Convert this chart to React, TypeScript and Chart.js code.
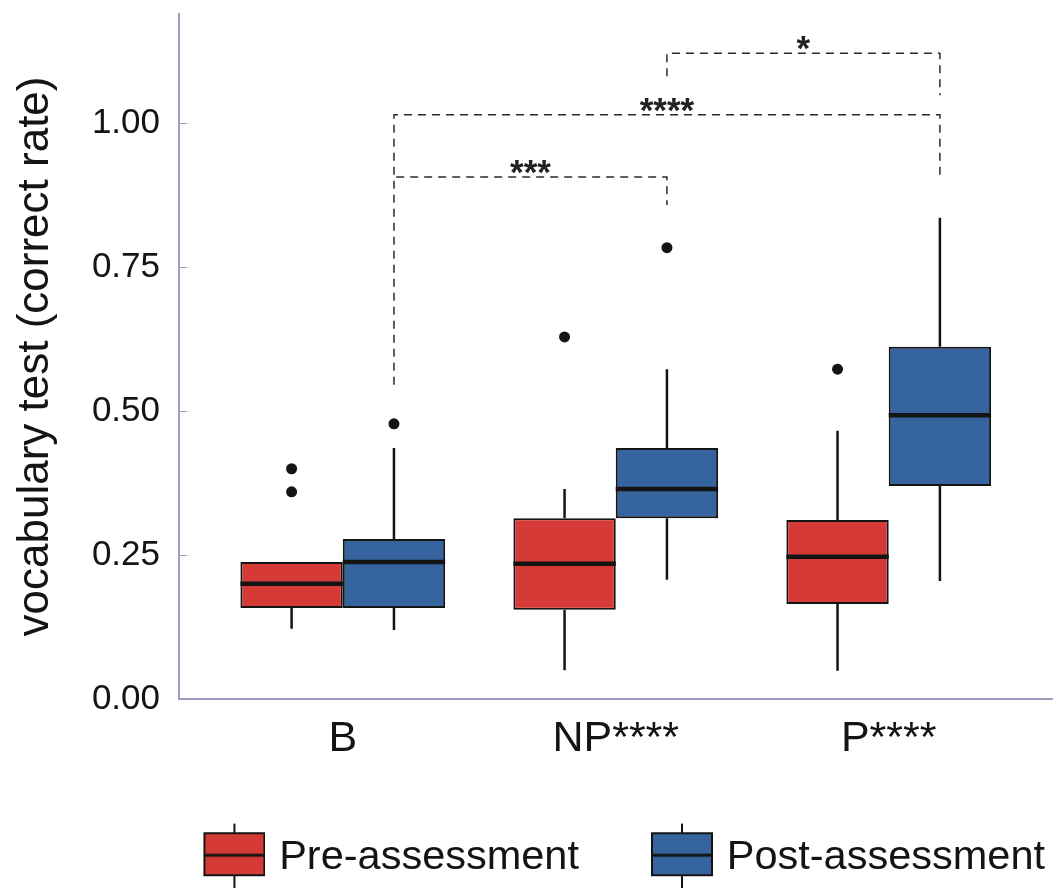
import React, { useEffect, useRef } from 'react';
import { Chart, registerables } from 'chart.js';

Chart.register(...registerables);

// ---------------- data ----------------
const categories = ['B', 'NP****', 'P****'];
const seriesNames = ['Pre-assessment', 'Post-assessment'];

const preQ1 = [0.158, 0.155, 0.165];
const preMedian = [0.2, 0.235, 0.247];
const preQ3 = [0.238, 0.314, 0.311];
const preWhiskerLow = [0.122, 0.05, 0.049];
const preWhiskerHigh = [0.238, 0.365, 0.466];
const preOutliers: [number, number][] = [[0, 0.4], [0, 0.36], [1, 0.629], [2, 0.573]];

const postQ1 = [0.158, 0.314, 0.37];
const postMedian = [0.238, 0.365, 0.493];
const postQ3 = [0.278, 0.436, 0.612];
const postWhiskerLow = [0.12, 0.207, 0.205];
const postWhiskerHigh = [0.436, 0.573, 0.836];
const postOutliers: [number, number][] = [[0, 0.478], [1, 0.784]];

const yTicks = [0, 0.25, 0.5, 0.75, 1.0];

// significance brackets between post-assessment boxes (category indices)
const bracketFrom = [0, 0, 1];
const bracketTo = [1, 2, 2];
const bracketLine = [0.907, 1.015, 1.122];
const bracketLeftEnd = [0.546, 0.546, 1.082];
const bracketRightEnd = [0.858, 0.907, 1.049];
const bracketLabels = ['***', '****', '*'];

// ---------------- style ----------------
const RED = '#d63a37';
const BLUE = '#36649f';
const INK = '#141414';
const AXIS = '#a39bbd';
const FONT = '"Liberation Sans", Arial, Helvetica, sans-serif';
const DODGE = 0.1875; // half of a box width in category units

const catX = (i: number) => i + 1;

function whiskerPoints(lo: number[], q1: number[], q3: number[], hi: number[], sign: number) {
  const pts: { x: number; y: number | null }[] = [];
  categories.forEach((_, i) => {
    const x = catX(i) + sign * DODGE;
    pts.push({ x, y: lo[i] }, { x, y: q1[i] }, { x, y: null });
    pts.push({ x, y: q3[i] }, { x, y: hi[i] }, { x, y: null });
  });
  return pts;
}

function medianPoints(med: number[], sign: number) {
  const pts: { x: number; y: number | null }[] = [];
  categories.forEach((_, i) => {
    const c = catX(i) + sign * DODGE;
    pts.push({ x: c - DODGE, y: med[i] }, { x: c + DODGE, y: med[i] }, { x: c + DODGE, y: null });
  });
  return pts;
}

function bracketPoints() {
  const pts: { x: number; y: number | null }[] = [];
  bracketLabels.forEach((_, i) => {
    const xl = catX(bracketFrom[i]) + DODGE;
    const xr = catX(bracketTo[i]) + DODGE;
    pts.push(
      { x: xl, y: bracketLeftEnd[i] },
      { x: xl, y: bracketLine[i] },
      { x: xr, y: bracketLine[i] },
      { x: xr, y: bracketRightEnd[i] },
      { x: xr, y: null }
    );
  });
  return pts;
}

function makeIcon(fill: string) {
  const c = document.createElement('canvas');
  const W = 128;
  const H = 72;
  c.width = W;
  c.height = H;
  const g = c.getContext('2d')!;
  const bw = 60;
  const bh = 42;
  const bx = W - bw - 1;
  const cy = H / 2 - 3;
  const by = cy - bh / 2;
  g.strokeStyle = INK;
  g.lineWidth = 2;
  g.beginPath();
  g.moveTo(bx + bw / 2, 2);
  g.lineTo(bx + bw / 2, H);
  g.stroke();
  g.fillStyle = fill;
  g.fillRect(bx, by, bw, bh);
  g.strokeRect(bx, by, bw, bh);
  g.lineWidth = 3;
  g.beginPath();
  g.moveTo(bx, cy + 1);
  g.lineTo(bx + bw, cy + 1);
  g.stroke();
  return c;
}

const starPlugin = {
  id: 'sigStars',
  afterDatasetsDraw(chart: any) {
    const { ctx, scales } = chart;
    const xs = scales.x;
    const ys = scales.y;
    ctx.save();
    ctx.font = `bold 35px ${FONT}`;
    ctx.fillStyle = '#222';
    ctx.textAlign = 'center';
    ctx.textBaseline = 'alphabetic';
    bracketLabels.forEach((lab, i) => {
      const xl = xs.getPixelForValue(catX(bracketFrom[i]) + DODGE);
      const xr = xs.getPixelForValue(catX(bracketTo[i]) + DODGE);
      const yp = ys.getPixelForValue(bracketLine[i]);
      ctx.fillText(lab, (xl + xr) / 2, yp + 7);
    });
    ctx.restore();
  },
};

const innerTickPlugin = {
  id: 'innerTicks',
  afterDraw(chart: any) {
    const { ctx, scales, chartArea } = chart;
    const ys = scales.y;
    ctx.save();
    ctx.strokeStyle = AXIS;
    ctx.lineWidth = 1;
    yTicks.forEach((v) => {
      const p = Math.round(ys.getPixelForValue(v)) + 0.5;
      ctx.beginPath();
      ctx.moveTo(chartArea.left, p);
      ctx.lineTo(chartArea.left + 8, p);
      ctx.stroke();
    });
    ctx.restore();
  },
};

export default function App() {
  const canvasRef = useRef<HTMLCanvasElement | null>(null);

  useEffect(() => {
    document.body.style.margin = '0';
    const canvas = canvasRef.current;
    if (!canvas) return;
    const iconPre = makeIcon(RED);
    const iconPost = makeIcon(BLUE);

    const chart = new Chart(canvas, {
      type: 'bar',
      data: {
        datasets: [
          {
            type: 'bar',
            label: seriesNames[0],
            data: categories.map((_, i) => ({ x: catX(i), y: [preQ1[i], preQ3[i]] })) as any,
            backgroundColor: RED,
            borderColor: INK,
            borderWidth: 2,
            borderSkipped: false,
            barPercentage: 1,
            categoryPercentage: 0.75,
            order: 10,
          },
          {
            type: 'bar',
            label: seriesNames[1],
            data: categories.map((_, i) => ({ x: catX(i), y: [postQ1[i], postQ3[i]] })) as any,
            backgroundColor: BLUE,
            borderColor: INK,
            borderWidth: 2,
            borderSkipped: false,
            barPercentage: 1,
            categoryPercentage: 0.75,
            order: 10,
          },
          {
            type: 'line',
            label: 'pre whiskers',
            data: whiskerPoints(preWhiskerLow, preQ1, preQ3, preWhiskerHigh, -1) as any,
            borderColor: INK,
            borderWidth: 2.5,
            pointRadius: 0,
            spanGaps: false,
            fill: false,
            order: 5,
          },
          {
            type: 'line',
            label: 'post whiskers',
            data: whiskerPoints(postWhiskerLow, postQ1, postQ3, postWhiskerHigh, 1) as any,
            borderColor: INK,
            borderWidth: 2.5,
            pointRadius: 0,
            spanGaps: false,
            fill: false,
            order: 5,
          },
          {
            type: 'line',
            label: 'pre median',
            data: medianPoints(preMedian, -1) as any,
            borderColor: INK,
            borderWidth: 4.5,
            pointRadius: 0,
            spanGaps: false,
            fill: false,
            order: 1,
          },
          {
            type: 'line',
            label: 'post median',
            data: medianPoints(postMedian, 1) as any,
            borderColor: INK,
            borderWidth: 4.5,
            pointRadius: 0,
            spanGaps: false,
            fill: false,
            order: 1,
          },
          {
            type: 'scatter',
            label: 'outliers',
            data: [
              ...preOutliers.map(([c, v]) => ({ x: catX(c) - DODGE, y: v })),
              ...postOutliers.map(([c, v]) => ({ x: catX(c) + DODGE, y: v })),
            ] as any,
            backgroundColor: INK,
            borderWidth: 0,
            pointRadius: 5.5,
            order: 0,
          },
          {
            type: 'line',
            label: 'brackets',
            data: bracketPoints() as any,
            borderColor: '#2a2a2a',
            borderWidth: 1.5,
            borderDash: [8, 6],
            pointRadius: 0,
            spanGaps: false,
            fill: false,
            order: 0,
          },
        ],
      },
      options: {
        responsive: true,
        maintainAspectRatio: false,
        animation: false,
        events: [],
        layout: { padding: { top: 14, left: 0, right: 0, bottom: 0 } },
        scales: {
          x: {
            type: 'linear',
            min: 0.4,
            max: 3.6,
            offset: false,
            grid: { display: false, drawTicks: false, offset: false },
            border: { display: true, color: AXIS, width: 2 },
            afterBuildTicks: (scale: any) => {
              scale.ticks = categories.map((_, i) => ({ value: catX(i) }));
            },
            afterFit: (scale: any) => {
              scale.height = 124.5;
              scale.paddingLeft = 0;
              scale.paddingRight = 0;
            },
            ticks: {
              autoSkip: false,
              maxRotation: 0,
              padding: 14,
              color: INK,
              font: { family: FONT, size: 43 },
              callback: (v: any) => categories[Math.round(Number(v)) - 1] ?? '',
            },
          },
          y: {
            type: 'linear',
            min: 0,
            max: 1.19,
            grid: { display: false, drawTicks: false },
            border: { display: true, color: AXIS, width: 2 },
            afterBuildTicks: (scale: any) => {
              scale.ticks = yTicks.map((v) => ({ value: v }));
            },
            afterFit: (scale: any) => {
              scale.width = 179;
              scale.paddingTop = 0;
              scale.paddingBottom = 0;
            },
            ticks: {
              padding: 19,
              color: INK,
              font: { family: FONT, size: 35 },
              callback: (v: any) => Number(v).toFixed(2),
            },
            title: {
              display: true,
              text: 'vocabulary test (correct rate)',
              color: INK,
              font: { family: FONT, size: 44 },
              padding: { top: 9, bottom: 0 },
            },
          },
        },
        plugins: {
          tooltip: { enabled: false },
          legend: {
            display: true,
            position: 'bottom',
            align: 'end',
            labels: {
              usePointStyle: true,
              pointStyleWidth: 114,
              padding: 13,
              color: INK,
              font: { family: FONT, size: 41.5 },
              generateLabels: () => [
                {
                  text: seriesNames[0],
                  pointStyle: iconPre as any,
                  fillStyle: RED,
                  strokeStyle: INK,
                  lineWidth: 0,
                  hidden: false,
                  datasetIndex: 0,
                  fontColor: INK,
                },
                {
                  text: seriesNames[1],
                  pointStyle: iconPost as any,
                  fillStyle: BLUE,
                  strokeStyle: INK,
                  lineWidth: 0,
                  hidden: false,
                  datasetIndex: 1,
                  fontColor: INK,
                },
              ],
            },
          },
        },
      } as any,
      plugins: [starPlugin, innerTickPlugin],
    });

    return () => {
      chart.destroy();
    };
  }, []);

  return (
    <div style={{ width: 1058, height: 888, position: 'relative', background: '#fff' }}>
      <canvas ref={canvasRef} />
    </div>
  );
}
